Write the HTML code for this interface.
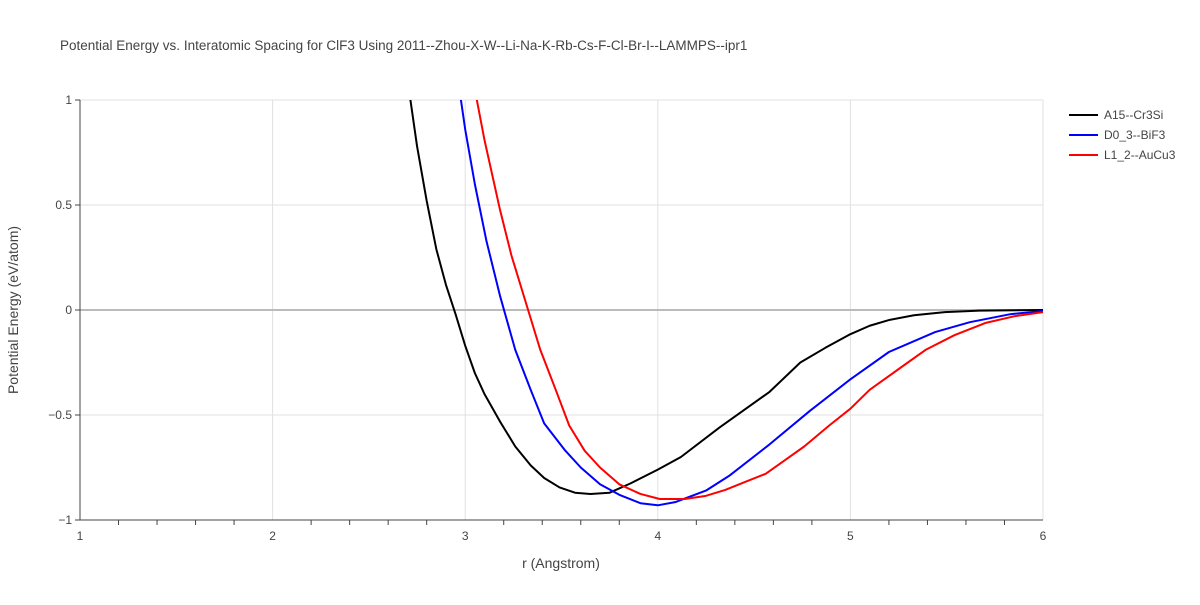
<!DOCTYPE html>
<html><head><meta charset="utf-8"><style>
body{margin:0;background:#fff;font-family:"Liberation Sans",sans-serif}
svg text{font-family:"Liberation Sans",sans-serif}
</style></head><body>
<svg id="chart" width="1200" height="600">
<text x="60" y="50" font-size="13.5" fill="#444">Potential Energy vs. Interatomic Spacing for ClF3 Using 2011--Zhou-X-W--Li-Na-K-Rb-Cs-F-Cl-Br-I--LAMMPS--ipr1</text>
<g id="grid"></g><g id="axes"></g>
<defs><clipPath id="clip"><rect x="80" y="100" width="963" height="420"/></clipPath></defs>
<g id="series" clip-path="url(#clip)"></g>
<text x="561" y="568" font-size="14" fill="#444" text-anchor="middle">r (Angstrom)</text>
<text transform="translate(18,310) rotate(-90)" font-size="14" fill="#444" text-anchor="middle">Potential Energy (eV/atom)</text>
<g id="legend"></g>
</svg>
<script>
const xTicks=[1,2,3,4,5,6];
const yTicks=[-1,-0.5,0,0.5,1];
const yTickLabels=["−1","−0.5","0","0.5","1"];
const seriesNames=["A15--Cr3Si","D0_3--BiF3","L1_2--AuCu3"];
const seriesColors=["#000","#0000ff","#ff0000"];
const rA=[2.70,2.75,2.80,2.85,2.90,2.95,3.0,3.05,3.1,3.18,3.26,3.34,3.41,3.49,3.57,3.65,3.75,3.86,4.0,4.12,4.32,4.58,4.74,4.87,5.0,5.1,5.2,5.33,5.49,5.67,6.0];
const eA=[1.1,0.78,0.52,0.29,0.12,-0.02,-0.17,-0.30,-0.40,-0.53,-0.65,-0.74,-0.80,-0.845,-0.87,-0.876,-0.87,-0.825,-0.76,-0.70,-0.56,-0.39,-0.25,-0.18,-0.115,-0.075,-0.048,-0.025,-0.01,-0.003,0];
const rB=[2.97,3.0,3.05,3.11,3.18,3.26,3.34,3.41,3.52,3.6,3.7,3.8,3.91,4.0,4.09,4.25,4.37,4.58,4.79,5.0,5.2,5.44,5.62,5.83,6.0];
const eB=[1.05,0.86,0.6,0.33,0.07,-0.19,-0.38,-0.54,-0.67,-0.75,-0.83,-0.88,-0.92,-0.93,-0.915,-0.86,-0.79,-0.64,-0.48,-0.33,-0.20,-0.105,-0.058,-0.02,-0.005];
const rC=[3.05,3.1,3.18,3.24,3.31,3.39,3.47,3.54,3.62,3.7,3.8,3.91,4.01,4.14,4.25,4.35,4.45,4.56,4.66,4.76,4.89,5.0,5.1,5.26,5.39,5.54,5.7,5.85,6.0];
const eC=[1.05,0.81,0.48,0.26,0.05,-0.19,-0.38,-0.55,-0.67,-0.75,-0.83,-0.876,-0.90,-0.90,-0.885,-0.857,-0.82,-0.78,-0.715,-0.65,-0.55,-0.47,-0.38,-0.275,-0.19,-0.12,-0.062,-0.03,-0.01];
const X=v=>80+(v-1)*192.6, Y=v=>310-v*210;
const NS="http://www.w3.org/2000/svg";
function mk(tag,attrs,parent,text){const e=document.createElementNS(NS,tag);for(const k in attrs)e.setAttribute(k,attrs[k]);if(text!==undefined)e.textContent=text;document.getElementById(parent).appendChild(e);return e;}
xTicks.forEach(t=>{const g=mk('line',{x1:X(t),x2:X(t),y1:100,y2:520,stroke:'#e0e0e0'},'grid');

const l=mk('text',{x:X(t),y:540,'font-size':12,fill:'#444','text-anchor':'middle'},'axes',String(t));
});
for(let v=1.2;v<6;v+=0.2){if(Math.abs(v-Math.round(v))<0.01)continue;const m=mk('line',{x1:X(v),x2:X(v),y1:520,y2:525,stroke:'#444'},'axes');
}
yTicks.forEach((t,i)=>{const g=mk('line',{x1:80,x2:1043,y1:Y(t),y2:Y(t),stroke:t===0?'#bbb':'#e0e0e0','stroke-width':t===0?2:1},'grid');

const l=mk('text',{x:72,y:Y(t)+4,'font-size':12,fill:'#444','text-anchor':'end'},'axes',yTickLabels[i]);

const tk=mk('line',{x1:75,x2:80,y1:Y(t),y2:Y(t),stroke:'#444'},'axes');
});
const ax=mk('line',{x1:80,x2:1043,y1:520,y2:520,stroke:'#444'},'axes');

const ay=mk('line',{x1:80,x2:80,y1:100,y2:520,stroke:'#444'},'axes');

[[rA,eA],[rB,eB],[rC,eC]].forEach((s,i)=>{
const p=mk('polyline',{points:s[0].map((r,j)=>X(r)+','+Y(s[1][j])).join(' '),fill:'none',stroke:seriesColors[i],'stroke-width':2,'stroke-linejoin':'round'},'series');

const ly=115+i*20;
const ll=mk('line',{x1:1069,x2:1098,y1:ly,y2:ly,stroke:seriesColors[i],'stroke-width':2},'legend');

const lt=mk('text',{x:1104,y:ly+4,'font-size':12,fill:'#444'},'legend',seriesNames[i]);
});
</script>
</body></html>
